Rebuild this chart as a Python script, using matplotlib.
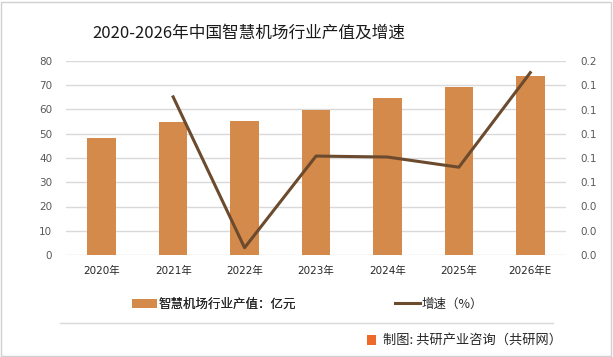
import matplotlib
matplotlib.use("Agg")
import matplotlib.pyplot as plt
from matplotlib.lines import Line2D
from matplotlib.patches import Patch, Rectangle
import numpy as np

plt.rcParams['font.family'] = ['Noto Sans CJK SC', 'DejaVu Sans']

categories = ["2020年", "2021年", "2022年", "2023年", "2024年", "2025年", "2026年E"]
output_values = [48.2, 54.8, 55.3, 59.8, 64.6, 69.3, 73.8]
growth_years = ["2021年", "2022年", "2023年", "2024年", "2025年", "2026年E"]
growth_values = [0.163, 0.0075, 0.102, 0.101, 0.0905, 0.188]
right_ticks = [0, 0.025, 0.05, 0.075, 0.1, 0.125, 0.15, 0.175, 0.2]
right_tick_labels = ["0.0", "0.0", "0.0", "0.1", "0.1", "0.1", "0.1", "0.1", "0.2"]
title = "2020-2026年中国智慧机场行业产值及增速"
bar_label = "智慧机场行业产值：亿元"
line_label = "增速（%）"
source = "制图: 共研产业咨询（共研网）"

W, H = 613, 357
fig = plt.figure(figsize=(W/100, H/100), dpi=100)
num_font = ['DejaVu Sans', 'Noto Sans CJK SC']

ax = fig.add_axes([66/W, 1-255/H, 500/W, 194/H])
x = np.arange(len(categories))
ax.bar(x, output_values, width=0.4, color="#D38A4B", zorder=3)
ax.set_xlim(-0.5, len(categories)-0.5)
ax.set_ylim(0, 80)
ax.set_yticks(np.arange(0, 81, 10))
ax.grid(axis='y', color="#d9d9d9", linewidth=1, zorder=0)
ax.set_axisbelow(True)
for s in ax.spines.values():
    s.set_visible(False)
ax.tick_params(axis='y', length=0, pad=10, labelsize=7.5, labelcolor="#595959")
ax.tick_params(axis='x', length=0, pad=8, labelsize=7.5, labelcolor="#262626")
ax.set_xticks(x)
ax.set_xticklabels(categories)
for lab in ax.get_xticklabels() + ax.get_yticklabels():
    lab.set_family(num_font)

ax2 = ax.twinx()
gx = [categories.index(c) for c in growth_years]
ax2.plot(gx, growth_values, color="#6B4A2E", linewidth=2.2, zorder=4)
ax2.set_ylim(0, 0.2)
ax2.set_yticks(right_ticks)
ax2.set_yticklabels(right_tick_labels)
for s in ax2.spines.values():
    s.set_visible(False)
ax2.tick_params(axis='y', length=0, pad=10, labelsize=7.5, labelcolor="#595959")
for lab in ax2.get_yticklabels():
    lab.set_family(num_font)

fig.text(249/W, 1-33/H, title, ha='center', va='center', fontsize=12, color="#1a1a1a")

# legend (two entries positioned separately)
leg1 = fig.legend([Patch(facecolor="#D38A4B", edgecolor="none")], [bar_label],
                  loc='center left', bbox_to_anchor=(132/W, 1-304/H), frameon=False,
                  fontsize=9, handlelength=2.0, handletextpad=0.15,
                  borderpad=0, borderaxespad=0)
leg2 = fig.legend([Line2D([0], [0], color="#6B4A2E", linewidth=2.2)], [line_label],
                  loc='center left', bbox_to_anchor=(395/W, 1-304/H), frameon=False,
                  fontsize=9, handlelength=2.0, handletextpad=0.15,
                  borderpad=0, borderaxespad=0)
fig.add_artist(leg1)
for lg in (leg1, leg2):
    for t in lg.get_texts():
        t.set_color("#262626")

# separator line
fig.add_artist(Line2D([60/W, 553/W], [1-323/H, 1-323/H], color="#d9d9d9", linewidth=1))

# footer icon and source
fig.add_artist(Rectangle((367/W, 1-345/H), 9/W, 10/H, facecolor="#EE6A2A", edgecolor="none"))
fig.text(383/W, 1-340/H, source, ha='left', va='center', fontsize=9.5, color="#262626")

# outer border
fig.add_artist(Rectangle((1/W, 1/H), (W-3)/W, (H-3)/H, fill=False, edgecolor="#d0d0d0", linewidth=1))

fig.savefig("out.png", dpi=100)
